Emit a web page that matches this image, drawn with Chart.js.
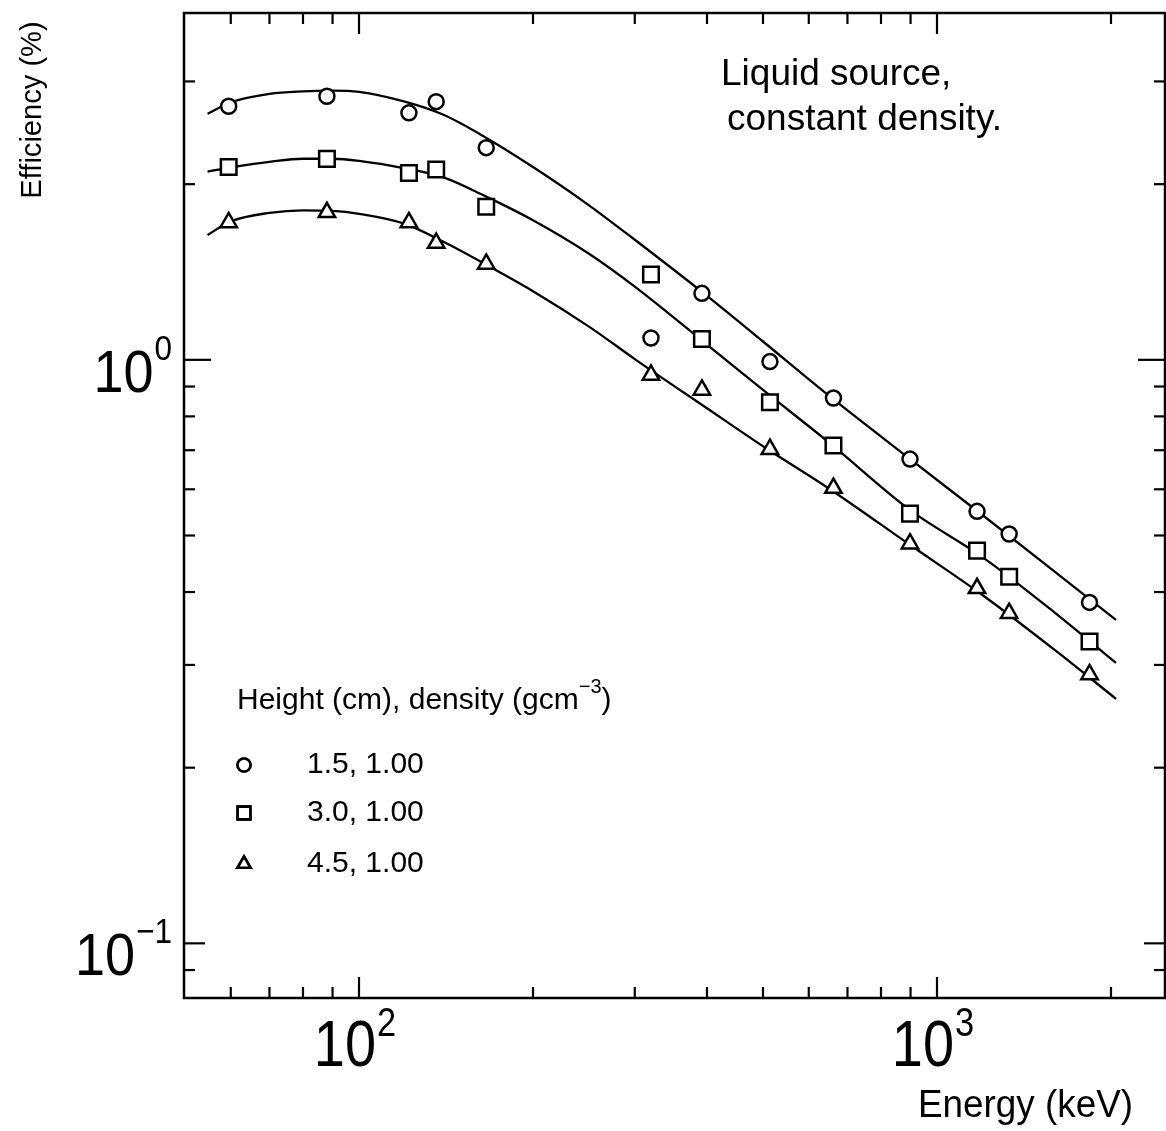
<!DOCTYPE html>
<html>
<head>
<meta charset="utf-8">
<script src="https://cdn.jsdelivr.net/npm/chart.js@4.4.0/dist/chart.umd.min.js"></script>
<style>
  html, body { margin: 0; padding: 0; background: #fff; }
</style>
</head>
<body>
<canvas id="grafico" width="1166" height="1131"></canvas>
<script>
// Energias dos pontos medidos (keV)
const energias = [59.5, 88, 122, 136, 166, 320, 392, 514, 662, 898, 1173, 1333, 1836];

// Eficiência medida (%) para cada altura
const efic15 = [2.72, 2.83, 2.65, 2.77, 2.31, 1.09, 1.30, 0.993, 0.860, 0.676, 0.550, 0.503, 0.384];
const efic30 = [2.14, 2.21, 2.09, 2.12, 1.83, 1.40, 1.086, 0.846, 0.713, 0.545, 0.471, 0.425, 0.329];
const efic45 = [1.72, 1.79, 1.72, 1.585, 1.46, 0.942, 0.888, 0.703, 0.603, 0.484, 0.406, 0.368, 0.289];

// Curvas ajustadas
const energiasCurva = [54.7, 60, 70, 80, 90, 100, 120, 140, 165, 200, 250, 300, 400, 500, 650, 900, 1200, 1600, 2040];
const curva15 = [2.64, 2.763, 2.857, 2.885, 2.893, 2.879, 2.77, 2.63, 2.41, 2.14, 1.84, 1.606, 1.287, 1.075, 0.868, 0.675, 0.5415, 0.4332, 0.3584];
const curva30 = [2.102, 2.138, 2.184, 2.211, 2.211, 2.193, 2.129, 2.055, 1.91, 1.735, 1.52, 1.335, 1.062, 0.888, 0.722, 0.552, 0.4587, 0.3685, 0.3024];
const curva45 = [1.637, 1.727, 1.786, 1.804, 1.800, 1.779, 1.710, 1.593, 1.460, 1.311, 1.140, 1.003, 0.826, 0.711, 0.602, 0.481, 0.395, 0.318, 0.2625];

// Marcas dos eixos
const ticksX = [60, 70, 80, 90, 100, 200, 300, 400, 500, 600, 700, 800, 900, 1000, 2000];
const ticksY = [0.09, 0.1, 0.2, 0.3, 0.4, 0.5, 0.6, 0.7, 0.8, 0.9, 1, 2, 3];
const rotulosX = [100, 1000];
const rotulosY = [0.1, 1];

const legendaTitulo = 'Height (cm), density (gcm';
const legendaItens = ['1.5, 1.00', '3.0, 1.00', '4.5, 1.00'];

const FONTE = '"Liberation Sans", Arial, sans-serif';

function pares(xs, ys) {
  return xs.map((v, i) => ({ x: v, y: ys[i] }));
}

function texto(ctx, s, x, y, size, align, sx) {
  ctx.save();
  ctx.font = size + 'px ' + FONTE;
  ctx.translate(x, y);
  ctx.scale(sx || 1, 1);
  ctx.textAlign = align || 'left';
  ctx.fillText(s, 0, 0);
  ctx.restore();
}

function largura(ctx, s, size, sx) {
  ctx.save();
  ctx.font = size + 'px ' + FONTE;
  const w = ctx.measureText(s).width * (sx || 1);
  ctx.restore();
  return w;
}

// desenha 10^n começando em x0
function potencia(ctx, exp, x0, base, size, supSize, supBase, sx) {
  const w10 = largura(ctx, '10', size, sx);
  texto(ctx, '10', x0, base, size, 'left', sx);
  texto(ctx, exp, x0 + w10 + 1, supBase, supSize, 'left', sx);
}

function expoente(v) {
  const n = Math.round(Math.log10(v));
  return n < 0 ? '\u2212' + (-n) : String(n);
}

const moldura = {
  id: 'moldura',
  afterDatasetsDraw(chart) {
    const { ctx, chartArea: a, scales: { x, y } } = chart;
    ctx.save();
    ctx.strokeStyle = '#000';
    ctx.fillStyle = '#000';
    ctx.lineCap = 'butt';

    // moldura
    ctx.lineWidth = 2.5;
    ctx.strokeRect(a.left, a.top, a.right - a.left, a.bottom - a.top);

    // ticks para dentro
    ctx.lineWidth = 2.2;
    const seg = (x1, y1, x2, y2) => { ctx.beginPath(); ctx.moveTo(x1, y1); ctx.lineTo(x2, y2); ctx.stroke(); };
    ticksX.forEach(v => {
      const px = x.getPixelForValue(v);
      const len = rotulosX.includes(v) ? 21 : 11;
      seg(px, a.bottom, px, a.bottom - len);
      seg(px, a.top, px, a.top + len);
    });
    ticksY.forEach(v => {
      const py = y.getPixelForValue(v);
      const len = rotulosY.includes(v) ? (v === 1 ? 27 : 21) : 11;
      seg(a.left, py, a.left + len, py);
      seg(a.right, py, a.right - len, py);
    });

    // rótulos do eixo X
    rotulosX.forEach(v => {
      const px = x.getPixelForValue(v);
      const exp = expoente(v);
      const sx = 0.86;
      const w = largura(ctx, '10', 65, sx) + 1 + largura(ctx, exp, 40, sx);
      potencia(ctx, exp, px - 4 - w / 2, 1066, 65, 40, 1036, sx);
    });

    // rótulos do eixo Y (alinhados à direita)
    rotulosY.forEach(v => {
      const py = y.getPixelForValue(v);
      const exp = expoente(v);
      const sx = 0.9;
      const w = largura(ctx, '10', 60, sx) + 1 + largura(ctx, exp, 35, sx);
      potencia(ctx, exp, 172 - w, py + 32, 60, 35, py, sx);
    });

    // títulos dos eixos
    texto(ctx, 'Energy (keV)', 918, 1117, 38, 'left', 0.97);
    ctx.save();
    ctx.translate(41, 110);
    ctx.rotate(-Math.PI / 2);
    texto(ctx, 'Efficiency (%)', 0, 0, 30, 'center', 0.97);
    ctx.restore();

    // anotação
    texto(ctx, 'Liquid source,', 721, 85, 37, 'left');
    texto(ctx, 'constant density.', 727, 130, 37, 'left');

    // legenda
    const wt = largura(ctx, legendaTitulo, 30);
    texto(ctx, legendaTitulo, 237, 709, 30, 'left');
    texto(ctx, '\u22123', 237 + wt, 693, 20, 'left');
    texto(ctx, ')', 237 + wt + largura(ctx, '\u22123', 20), 709, 30, 'left');

    const estilos = ['circle', 'rect', 'triangle'];
    const ys = [765, 813, 864];
    ctx.lineWidth = 2.6;
    estilos.forEach((st, i) => {
      Chart.helpers.drawPoint(ctx, { pointStyle: st, radius: st === 'rect' ? 9 : (st === 'triangle' ? 7.5 : 6.5), borderWidth: 2.6 }, 244, ys[i]);
      ctx.fillStyle = '#fff';
      ctx.fill();
      ctx.stroke();
      ctx.fillStyle = '#000';
      texto(ctx, legendaItens[i], 307, ys[i] + 8, 30, 'left');
    });

    ctx.restore();
  }
};

const marcador = (dados, estilo, raio) => ({
  data: pares(energias, dados),
  showLine: false,
  pointStyle: estilo,
  pointRadius: raio,
  pointBorderWidth: 2.5,
  pointBorderColor: '#000',
  pointBackgroundColor: '#fff',
  order: 0
});

const curva = (dados) => ({
  data: pares(energiasCurva, dados),
  showLine: true,
  pointRadius: 0,
  borderColor: '#000',
  borderWidth: 2.3,
  cubicInterpolationMode: 'monotone',
  order: 1
});

new Chart(document.getElementById('grafico'), {
  type: 'scatter',
  data: {
    datasets: [
      marcador(efic15, 'circle', 7.5),
      marcador(efic30, 'rect', 11),
      marcador(efic45, 'triangle', 9.5),
      curva(curva15),
      curva(curva30),
      curva(curva45)
    ]
  },
  options: {
    responsive: false,
    animation: false,
    devicePixelRatio: 1,
    events: [],
    layout: { autoPadding: false, padding: { left: 184, right: 1, top: 13, bottom: 133 } },
    plugins: { legend: { display: false }, tooltip: { enabled: false } },
    scales: {
      x: { type: 'logarithmic', min: 49.8, max: 2480, display: false },
      y: { type: 'logarithmic', min: 0.0806, max: 3.93, display: false }
    }
  },
  plugins: [moldura]
});
</script>
</body>
</html>
